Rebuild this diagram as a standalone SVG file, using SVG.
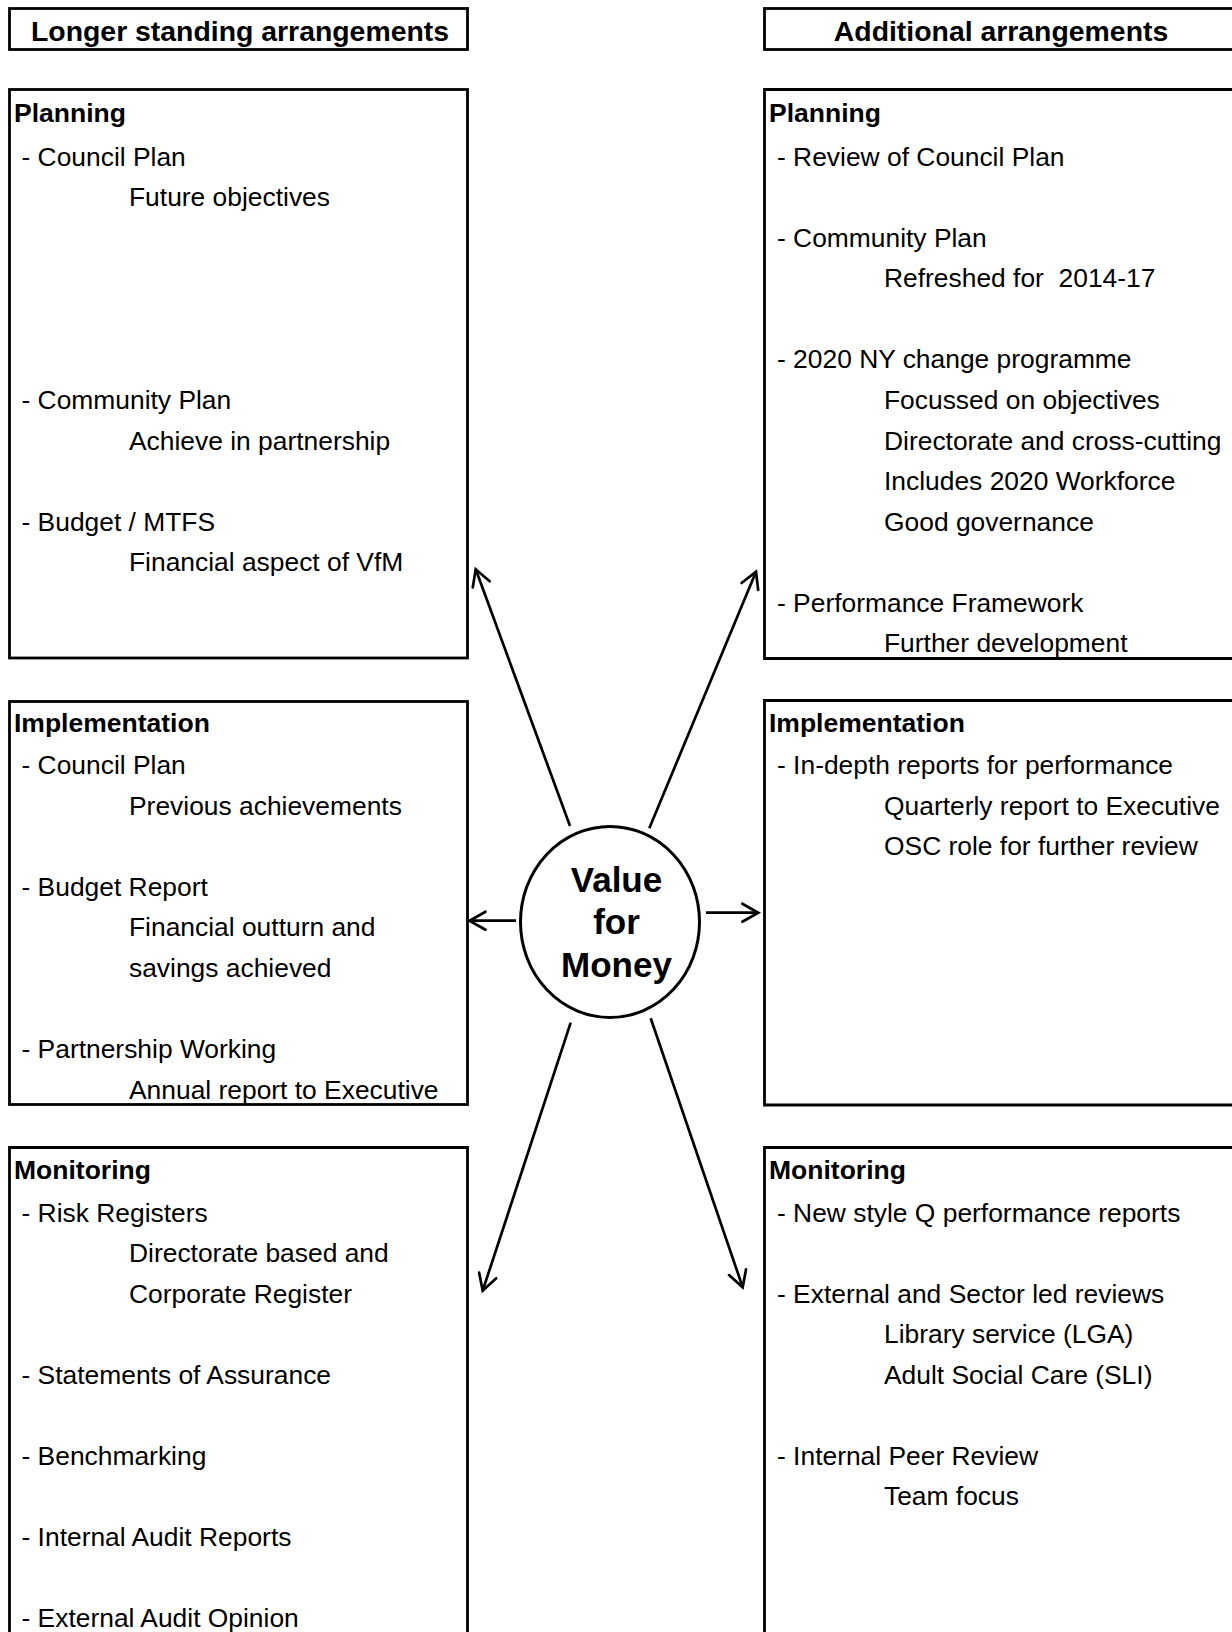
<svg xmlns="http://www.w3.org/2000/svg" width="1232" height="1632" viewBox="0 0 1232 1632">
<style>
.box{fill:none;stroke:#000;stroke-width:2.8}
.hdr{font-family:"Liberation Sans",Arial,sans-serif;font-weight:bold;font-size:28.4px;fill:#000;text-anchor:middle}
.h{font-family:"Liberation Sans",Arial,sans-serif;font-weight:bold;font-size:26.5px;fill:#000}
.t{font-family:"Liberation Sans",Arial,sans-serif;font-size:26.4px;fill:#000}
.vfm{font-family:"Liberation Sans",Arial,sans-serif;font-weight:bold;font-size:35px;fill:#000;text-anchor:middle}
.conn{fill:none;stroke:#000;stroke-width:2.7}
</style>
<defs>
<marker id="arr" markerUnits="userSpaceOnUse" markerWidth="40" markerHeight="40" viewBox="-20 -20 40 40" refX="0" refY="0" orient="auto" overflow="visible">
<path d="M-16,-9 L0,0 L-16,9" fill="none" stroke="#000" stroke-width="2.7" stroke-linecap="round" stroke-linejoin="miter"/>
</marker>
</defs>
<rect width="1232" height="1632" fill="#fff"/>

<g id="header-left">
<rect class="box" x="9.5" y="8.5" width="458" height="41"/>
<text class="hdr" x="240" y="41">Longer standing arrangements</text>
</g>
<g id="header-right">
<rect class="box" x="764.5" y="8.5" width="480" height="41"/>
<text class="hdr" x="1001" y="41">Additional arrangements</text>
</g>

<g id="left-planning">
<rect class="box" x="9.5" y="89.5" width="458" height="568.5"/>
<text class="h" x="14" y="121.5">Planning</text>
<text class="t" x="21.5" y="165.5">- Council Plan</text>
<text class="t" x="129" y="206">Future objectives</text>
<text class="t" x="21.5" y="409">- Community Plan</text>
<text class="t" x="129" y="449.5">Achieve in partnership</text>
<text class="t" x="21.5" y="530.5">- Budget / MTFS</text>
<text class="t" x="129" y="571">Financial aspect of VfM</text>
</g>

<g id="right-planning">
<path class="box" d="M1240,89.5 H764.5 V658.5 H1240"/>
<text class="h" x="769" y="121.5">Planning</text>
<text class="t" x="777" y="165.5">- Review of Council Plan</text>
<text class="t" x="777" y="246.5">- Community Plan</text>
<text class="t" x="884" y="287" xml:space="preserve">Refreshed for  2014-17</text>
<text class="t" x="777" y="368">- 2020 NY change programme</text>
<text class="t" x="884" y="409">Focussed on objectives</text>
<text class="t" x="884" y="449.5">Directorate and cross-cutting</text>
<text class="t" x="884" y="490">Includes 2020 Workforce</text>
<text class="t" x="884" y="530.5">Good governance</text>
<text class="t" x="777" y="611.5">- Performance Framework</text>
<text class="t" x="884" y="652">Further development</text>
</g>

<g id="left-implementation">
<rect class="box" x="9.5" y="701.5" width="458" height="403"/>
<text class="h" x="14" y="731.5">Implementation</text>
<text class="t" x="21.5" y="774">- Council Plan</text>
<text class="t" x="129" y="814.5">Previous achievements</text>
<text class="t" x="21.5" y="895.5">- Budget Report</text>
<text class="t" x="129" y="936">Financial outturn and</text>
<text class="t" x="129" y="977">savings achieved</text>
<text class="t" x="21.5" y="1058">- Partnership Working</text>
<text class="t" x="129" y="1098.5">Annual report to Executive</text>
</g>

<g id="right-implementation">
<path class="box" d="M1240,700.5 H764.5 V1105 H1240"/>
<text class="h" x="769" y="731.5">Implementation</text>
<text class="t" x="777" y="774">- In-depth reports for performance</text>
<text class="t" x="884" y="814.5">Quarterly report to Executive</text>
<text class="t" x="884" y="855">OSC role for further review</text>
</g>

<g id="left-monitoring">
<path class="box" d="M9.5,1640 V1147.5 H467.5 V1640"/>
<text class="h" x="14" y="1178.5">Monitoring</text>
<text class="t" x="21.5" y="1221.5">- Risk Registers</text>
<text class="t" x="129" y="1262">Directorate based and</text>
<text class="t" x="129" y="1302.5">Corporate Register</text>
<text class="t" x="21.5" y="1383.5">- Statements of Assurance</text>
<text class="t" x="21.5" y="1464.5">- Benchmarking</text>
<text class="t" x="21.5" y="1545.5">- Internal Audit Reports</text>
<text class="t" x="21.5" y="1626.5">- External Audit Opinion</text>
</g>

<g id="right-monitoring">
<path class="box" d="M764.5,1640 V1147.5 H1240"/>
<text class="h" x="769" y="1178.5">Monitoring</text>
<text class="t" x="777" y="1221.5">- New style Q performance reports</text>
<text class="t" x="777" y="1302.5">- External and Sector led reviews</text>
<text class="t" x="884" y="1343">Library service (LGA)</text>
<text class="t" x="884" y="1383.5">Adult Social Care (SLI)</text>
<text class="t" x="777" y="1464.5">- Internal Peer Review</text>
<text class="t" x="884" y="1505">Team focus</text>
</g>

<g id="value-for-money">
<ellipse cx="610" cy="922" rx="89.5" ry="95.5" fill="#fff" stroke="#000" stroke-width="3"/>
<text class="vfm" x="616.5" y="891.5">Value</text>
<text class="vfm" x="616.5" y="934">for</text>
<text class="vfm" x="616.5" y="976.5">Money</text>
</g>

<g id="connectors">
<path class="conn" d="M570,826 L475.7,569.3" marker-end="url(#arr)"/>
<path class="conn" d="M649.3,828.3 L756,571.7" marker-end="url(#arr)"/>
<path class="conn" d="M516,920.7 L469.5,920.7" marker-end="url(#arr)"/>
<path class="conn" d="M706,912.7 L758.3,912.7" marker-end="url(#arr)"/>
<path class="conn" d="M570.7,1022.7 L482.7,1290.7" marker-end="url(#arr)"/>
<path class="conn" d="M650.7,1018.3 L742.7,1287.3" marker-end="url(#arr)"/>
</g>
</svg>
